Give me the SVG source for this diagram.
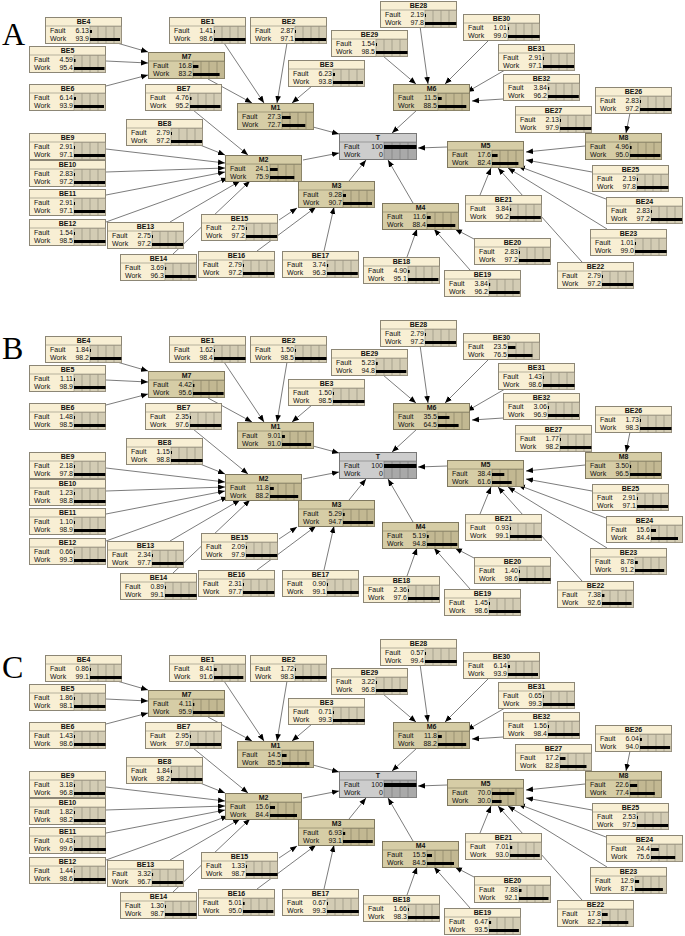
<svg xmlns="http://www.w3.org/2000/svg" xmlns:xlink="http://www.w3.org/1999/xlink" width="685" height="936" viewBox="0 0 685 936">
<style>
.n{font-family:"Liberation Sans",Arial,sans-serif;font-size:7px;font-weight:bold;text-anchor:middle;fill:#111}
.v{font-family:"Liberation Sans",Arial,sans-serif;font-size:7px;text-anchor:end;fill:#111}
.l{font-family:"Liberation Sans",Arial,sans-serif;font-size:7px;fill:#111}
.b{fill:#000}
.pl{font-family:"Liberation Serif","Times New Roman",serif;font-size:32px;fill:#000}
</style>
<defs>
<marker id="ah" viewBox="0 0 10 10" refX="10" refY="5" markerWidth="7" markerHeight="7" markerUnits="userSpaceOnUse" orient="auto"><path d="M0 1L10 5L0 9z" fill="#000"/></marker>
<g id="be"><rect x="0.5" y="0.5" width="76" height="26" fill="#f8efd4" stroke="#8c8675"/><line x1="0.5" y1="9" x2="76.5" y2="9" stroke="#8c8675" stroke-width="0.6"/><rect x="45" y="9.5" width="31.5" height="17" fill="#d3ccb4" stroke="#8c8675" stroke-width="0.6"/><path d="M53 9.5V26.5M61 9.5V26.5M69 9.5V26.5" stroke="#8c8675" stroke-width="0.6"/><text class="l" x="5" y="16">Fault</text><text class="l" x="5" y="24">Work</text></g>
<g id="mm"><rect x="0.5" y="0.5" width="76" height="26" fill="#d6cda6" stroke="#7f785f"/><line x1="0.5" y1="9" x2="76.5" y2="9" stroke="#7f785f" stroke-width="0.6"/><rect x="45" y="9.5" width="31.5" height="17" fill="#c2b892" stroke="#7f785f" stroke-width="0.6"/><path d="M53 9.5V26.5M61 9.5V26.5M69 9.5V26.5" stroke="#7f785f" stroke-width="0.6"/><text class="l" x="5" y="16">Fault</text><text class="l" x="5" y="24">Work</text></g>
<g id="tt"><rect x="0.5" y="0.5" width="77" height="26" fill="#cdcdcd" stroke="#777"/><line x1="0.5" y1="9" x2="77.5" y2="9" stroke="#777" stroke-width="0.6"/><rect x="45" y="9.5" width="32.5" height="17" fill="#a9a9a9" stroke="#777" stroke-width="0.6"/><path d="M53 9.5V26.5M61 9.5V26.5M69 9.5V26.5" stroke="#777" stroke-width="0.6"/><text class="l" x="5" y="16">Fault</text><text class="l" x="5" y="24">Work</text></g>
<g id="edges" stroke="#444" stroke-width="0.7" fill="none" marker-end="url(#ah)">
<line x1="117" y1="43" x2="148" y2="52"/><line x1="106" y1="61" x2="148" y2="63"/><line x1="106" y1="86" x2="148" y2="75"/>
<line x1="208" y1="79" x2="252" y2="103"/><line x1="224" y1="43" x2="264" y2="103"/><line x1="287" y1="43" x2="277" y2="103"/><line x1="312" y1="86" x2="292" y2="103"/>
<line x1="193" y1="110" x2="248" y2="155"/><line x1="200" y1="145" x2="225" y2="155"/>
<line x1="106" y1="149" x2="225" y2="163"/><line x1="106" y1="172" x2="225" y2="168"/><line x1="106" y1="195" x2="225" y2="172"/><line x1="106" y1="222" x2="228" y2="178"/>
<line x1="170" y1="222" x2="240" y2="181"/><line x1="173" y1="254" x2="250" y2="181"/>
<line x1="279" y1="220" x2="297" y2="208"/><line x1="257" y1="251" x2="316" y2="207"/><line x1="324" y1="251" x2="334" y2="207"/>
<line x1="303" y1="160" x2="339" y2="153"/><line x1="313" y1="127" x2="339" y2="134"/><line x1="349" y1="181" x2="366" y2="160"/>
<line x1="417" y1="110" x2="392" y2="133"/><line x1="413" y1="203" x2="388" y2="160"/><line x1="447" y1="147" x2="418" y2="148"/>
<line x1="585" y1="146" x2="526" y2="152"/><line x1="592" y1="172" x2="526" y2="160"/><line x1="606" y1="199" x2="518" y2="166"/><line x1="607" y1="229" x2="508" y2="168"/><line x1="582" y1="262" x2="498" y2="168"/><line x1="480" y1="195" x2="491" y2="168"/>
<line x1="474" y1="239" x2="455" y2="229"/><line x1="470" y1="270" x2="434" y2="229"/><line x1="407" y1="257" x2="417" y2="229"/>
<line x1="630" y1="113" x2="626" y2="133"/>
<line x1="420" y1="26" x2="428" y2="84"/><line x1="383" y1="56" x2="416" y2="84"/><line x1="489" y1="40" x2="445" y2="84"/><line x1="505" y1="70" x2="467" y2="92"/><line x1="503" y1="99" x2="472" y2="101"/>
</g>
</defs>

<g id="panelA">
<text class="pl" x="2" y="45">A</text>
<g id="connA"><use href="#edges"/></g>
<g id="a-BE4" transform="translate(45,17)"><use href="#be"/><text class="n" x="38.5" y="7">BE4</text><text class="v" x="44" y="16">6.13</text><text class="v" x="44" y="24">93.9</text><rect class="b" x="45" y="13" width="2" height="3"/><rect class="b" x="45" y="21" width="30" height="3"/></g>
<g id="a-BE1" transform="translate(169,17)"><use href="#be"/><text class="n" x="38.5" y="7">BE1</text><text class="v" x="44" y="16">1.41</text><text class="v" x="44" y="24">98.6</text><rect class="b" x="45" y="13" width="1" height="3"/><rect class="b" x="45" y="21" width="31.5" height="3"/></g>
<g id="a-BE2" transform="translate(250,17)"><use href="#be"/><text class="n" x="38.5" y="7">BE2</text><text class="v" x="44" y="16">2.87</text><text class="v" x="44" y="24">97.1</text><rect class="b" x="45" y="13" width="1" height="3"/><rect class="b" x="45" y="21" width="31.1" height="3"/></g>
<g id="a-BE28" transform="translate(380,1)"><use href="#be"/><text class="n" x="38.5" y="7">BE28</text><text class="v" x="44" y="16">2.19</text><text class="v" x="44" y="24">97.8</text><rect class="b" x="45" y="13" width="1" height="3"/><rect class="b" x="45" y="21" width="31.3" height="3"/></g>
<g id="a-BE30" transform="translate(463,14)"><use href="#be"/><text class="n" x="38.5" y="7">BE30</text><text class="v" x="44" y="16">1.01</text><text class="v" x="44" y="24">99.0</text><rect class="b" x="45" y="13" width="1" height="3"/><rect class="b" x="45" y="21" width="31.7" height="3"/></g>
<g id="a-BE29" transform="translate(331,30)"><use href="#be"/><text class="n" x="38.5" y="7">BE29</text><text class="v" x="44" y="16">1.54</text><text class="v" x="44" y="24">98.5</text><rect class="b" x="45" y="13" width="1" height="3"/><rect class="b" x="45" y="21" width="31.5" height="3"/></g>
<g id="a-BE5" transform="translate(29,46)"><use href="#be"/><text class="n" x="38.5" y="7">BE5</text><text class="v" x="44" y="16">4.59</text><text class="v" x="44" y="24">95.4</text><rect class="b" x="45" y="13" width="1.5" height="3"/><rect class="b" x="45" y="21" width="30.5" height="3"/></g>
<g id="a-M7" transform="translate(148,52)"><use href="#mm"/><text class="n" x="38.5" y="7">M7</text><text class="v" x="44" y="16">16.8</text><text class="v" x="44" y="24">83.2</text><rect class="b" x="45" y="13" width="5.4" height="3"/><rect class="b" x="45" y="21" width="26.6" height="3"/></g>
<g id="a-BE3" transform="translate(288,60)"><use href="#be"/><text class="n" x="38.5" y="7">BE3</text><text class="v" x="44" y="16">6.23</text><text class="v" x="44" y="24">93.8</text><rect class="b" x="45" y="13" width="2" height="3"/><rect class="b" x="45" y="21" width="30" height="3"/></g>
<g id="a-BE31" transform="translate(498,44)"><use href="#be"/><text class="n" x="38.5" y="7">BE31</text><text class="v" x="44" y="16">2.91</text><text class="v" x="44" y="24">97.1</text><rect class="b" x="45" y="13" width="1" height="3"/><rect class="b" x="45" y="21" width="31.1" height="3"/></g>
<g id="a-BE32" transform="translate(503,74)"><use href="#be"/><text class="n" x="38.5" y="7">BE32</text><text class="v" x="44" y="16">3.84</text><text class="v" x="44" y="24">96.2</text><rect class="b" x="45" y="13" width="1.2" height="3"/><rect class="b" x="45" y="21" width="30.8" height="3"/></g>
<g id="a-BE6" transform="translate(29,84)"><use href="#be"/><text class="n" x="38.5" y="7">BE6</text><text class="v" x="44" y="16">6.14</text><text class="v" x="44" y="24">93.9</text><rect class="b" x="45" y="13" width="2" height="3"/><rect class="b" x="45" y="21" width="30" height="3"/></g>
<g id="a-BE7" transform="translate(145,84)"><use href="#be"/><text class="n" x="38.5" y="7">BE7</text><text class="v" x="44" y="16">4.76</text><text class="v" x="44" y="24">95.2</text><rect class="b" x="45" y="13" width="1.5" height="3"/><rect class="b" x="45" y="21" width="30.5" height="3"/></g>
<g id="a-M6" transform="translate(393,84)"><use href="#mm"/><text class="n" x="38.5" y="7">M6</text><text class="v" x="44" y="16">11.5</text><text class="v" x="44" y="24">88.5</text><rect class="b" x="45" y="13" width="3.7" height="3"/><rect class="b" x="45" y="21" width="28.3" height="3"/></g>
<g id="a-BE26" transform="translate(595,87)"><use href="#be"/><text class="n" x="38.5" y="7">BE26</text><text class="v" x="44" y="16">2.83</text><text class="v" x="44" y="24">97.2</text><rect class="b" x="45" y="13" width="1" height="3"/><rect class="b" x="45" y="21" width="31.1" height="3"/></g>
<g id="a-M1" transform="translate(237,103)"><use href="#mm"/><text class="n" x="38.5" y="7">M1</text><text class="v" x="44" y="16">27.3</text><text class="v" x="44" y="24">72.7</text><rect class="b" x="45" y="13" width="8.7" height="3"/><rect class="b" x="45" y="21" width="23.3" height="3"/></g>
<g id="a-BE27" transform="translate(515,106)"><use href="#be"/><text class="n" x="38.5" y="7">BE27</text><text class="v" x="44" y="16">2.13</text><text class="v" x="44" y="24">97.9</text><rect class="b" x="45" y="13" width="1" height="3"/><rect class="b" x="45" y="21" width="31.3" height="3"/></g>
<g id="a-BE8" transform="translate(126,119)"><use href="#be"/><text class="n" x="38.5" y="7">BE8</text><text class="v" x="44" y="16">2.79</text><text class="v" x="44" y="24">97.2</text><rect class="b" x="45" y="13" width="1" height="3"/><rect class="b" x="45" y="21" width="31.1" height="3"/></g>
<g id="a-BE9" transform="translate(29,133)"><use href="#be"/><text class="n" x="38.5" y="7">BE9</text><text class="v" x="44" y="16">2.91</text><text class="v" x="44" y="24">97.1</text><rect class="b" x="45" y="13" width="1" height="3"/><rect class="b" x="45" y="21" width="31.1" height="3"/></g>
<g id="a-T" transform="translate(339,133)"><use href="#tt"/><text class="n" x="39" y="7">T</text><text class="v" x="44" y="16">100</text><text class="v" x="44" y="24">0</text><rect class="b" x="45" y="12" width="32.5" height="4"/></g>
<g id="a-M8" transform="translate(585,133)"><use href="#mm"/><text class="n" x="38.5" y="7">M8</text><text class="v" x="44" y="16">4.96</text><text class="v" x="44" y="24">95.0</text><rect class="b" x="45" y="13" width="1.6" height="3"/><rect class="b" x="45" y="21" width="30.4" height="3"/></g>
<g id="a-M5" transform="translate(447,141)"><use href="#mm"/><text class="n" x="38.5" y="7">M5</text><text class="v" x="44" y="16">17.6</text><text class="v" x="44" y="24">82.4</text><rect class="b" x="45" y="13" width="5.6" height="3"/><rect class="b" x="45" y="21" width="26.4" height="3"/></g>
<g id="a-M2" transform="translate(225,155)"><use href="#mm"/><text class="n" x="38.5" y="7">M2</text><text class="v" x="44" y="16">24.1</text><text class="v" x="44" y="24">75.9</text><rect class="b" x="45" y="13" width="7.7" height="3"/><rect class="b" x="45" y="21" width="24.3" height="3"/></g>
<g id="a-BE10" transform="translate(29,160)"><use href="#be"/><text class="n" x="38.5" y="7">BE10</text><text class="v" x="44" y="16">2.83</text><text class="v" x="44" y="24">97.2</text><rect class="b" x="45" y="13" width="1" height="3"/><rect class="b" x="45" y="21" width="31.1" height="3"/></g>
<g id="a-BE25" transform="translate(592,165)"><use href="#be"/><text class="n" x="38.5" y="7">BE25</text><text class="v" x="44" y="16">2.19</text><text class="v" x="44" y="24">97.8</text><rect class="b" x="45" y="13" width="1" height="3"/><rect class="b" x="45" y="21" width="31.3" height="3"/></g>
<g id="a-M3" transform="translate(298,181)"><use href="#mm"/><text class="n" x="38.5" y="7">M3</text><text class="v" x="44" y="16">9.28</text><text class="v" x="44" y="24">90.7</text><rect class="b" x="45" y="13" width="3" height="3"/><rect class="b" x="45" y="21" width="29" height="3"/></g>
<g id="a-BE11" transform="translate(29,189)"><use href="#be"/><text class="n" x="38.5" y="7">BE11</text><text class="v" x="44" y="16">2.91</text><text class="v" x="44" y="24">97.1</text><rect class="b" x="45" y="13" width="1" height="3"/><rect class="b" x="45" y="21" width="31.1" height="3"/></g>
<g id="a-BE21" transform="translate(465,195)"><use href="#be"/><text class="n" x="38.5" y="7">BE21</text><text class="v" x="44" y="16">3.84</text><text class="v" x="44" y="24">96.2</text><rect class="b" x="45" y="13" width="1.2" height="3"/><rect class="b" x="45" y="21" width="30.8" height="3"/></g>
<g id="a-BE24" transform="translate(606,197)"><use href="#be"/><text class="n" x="38.5" y="7">BE24</text><text class="v" x="44" y="16">2.83</text><text class="v" x="44" y="24">97.2</text><rect class="b" x="45" y="13" width="1" height="3"/><rect class="b" x="45" y="21" width="31.1" height="3"/></g>
<g id="a-M4" transform="translate(382,203)"><use href="#mm"/><text class="n" x="38.5" y="7">M4</text><text class="v" x="44" y="16">11.6</text><text class="v" x="44" y="24">88.4</text><rect class="b" x="45" y="13" width="3.7" height="3"/><rect class="b" x="45" y="21" width="28.3" height="3"/></g>
<g id="a-BE15" transform="translate(201,214)"><use href="#be"/><text class="n" x="38.5" y="7">BE15</text><text class="v" x="44" y="16">2.75</text><text class="v" x="44" y="24">97.2</text><rect class="b" x="45" y="13" width="1" height="3"/><rect class="b" x="45" y="21" width="31.1" height="3"/></g>
<g id="a-BE12" transform="translate(29,219)"><use href="#be"/><text class="n" x="38.5" y="7">BE12</text><text class="v" x="44" y="16">1.54</text><text class="v" x="44" y="24">98.5</text><rect class="b" x="45" y="13" width="1" height="3"/><rect class="b" x="45" y="21" width="31.5" height="3"/></g>
<g id="a-BE13" transform="translate(107,222)"><use href="#be"/><text class="n" x="38.5" y="7">BE13</text><text class="v" x="44" y="16">2.75</text><text class="v" x="44" y="24">97.2</text><rect class="b" x="45" y="13" width="1" height="3"/><rect class="b" x="45" y="21" width="31.1" height="3"/></g>
<g id="a-BE23" transform="translate(590,229)"><use href="#be"/><text class="n" x="38.5" y="7">BE23</text><text class="v" x="44" y="16">1.01</text><text class="v" x="44" y="24">99.0</text><rect class="b" x="45" y="13" width="1" height="3"/><rect class="b" x="45" y="21" width="31.7" height="3"/></g>
<g id="a-BE20" transform="translate(474,238)"><use href="#be"/><text class="n" x="38.5" y="7">BE20</text><text class="v" x="44" y="16">2.83</text><text class="v" x="44" y="24">97.2</text><rect class="b" x="45" y="13" width="1" height="3"/><rect class="b" x="45" y="21" width="31.1" height="3"/></g>
<g id="a-BE16" transform="translate(198,251)"><use href="#be"/><text class="n" x="38.5" y="7">BE16</text><text class="v" x="44" y="16">2.79</text><text class="v" x="44" y="24">97.2</text><rect class="b" x="45" y="13" width="1" height="3"/><rect class="b" x="45" y="21" width="31.1" height="3"/></g>
<g id="a-BE17" transform="translate(282,251)"><use href="#be"/><text class="n" x="38.5" y="7">BE17</text><text class="v" x="44" y="16">3.74</text><text class="v" x="44" y="24">96.3</text><rect class="b" x="45" y="13" width="1.2" height="3"/><rect class="b" x="45" y="21" width="30.8" height="3"/></g>
<g id="a-BE14" transform="translate(120,254)"><use href="#be"/><text class="n" x="38.5" y="7">BE14</text><text class="v" x="44" y="16">3.69</text><text class="v" x="44" y="24">96.3</text><rect class="b" x="45" y="13" width="1.2" height="3"/><rect class="b" x="45" y="21" width="30.8" height="3"/></g>
<g id="a-BE18" transform="translate(363,257)"><use href="#be"/><text class="n" x="38.5" y="7">BE18</text><text class="v" x="44" y="16">4.90</text><text class="v" x="44" y="24">95.1</text><rect class="b" x="45" y="13" width="1.6" height="3"/><rect class="b" x="45" y="21" width="30.4" height="3"/></g>
<g id="a-BE22" transform="translate(557,262)"><use href="#be"/><text class="n" x="38.5" y="7">BE22</text><text class="v" x="44" y="16">2.79</text><text class="v" x="44" y="24">97.2</text><rect class="b" x="45" y="13" width="1" height="3"/><rect class="b" x="45" y="21" width="31.1" height="3"/></g>
<g id="a-BE19" transform="translate(444,270)"><use href="#be"/><text class="n" x="38.5" y="7">BE19</text><text class="v" x="44" y="16">3.84</text><text class="v" x="44" y="24">96.2</text><rect class="b" x="45" y="13" width="1.2" height="3"/><rect class="b" x="45" y="21" width="30.8" height="3"/></g>
</g>

<g id="panelB" transform="translate(0,319)">
<text class="pl" x="2" y="40">B</text>
<g id="connB"><use href="#edges"/></g>
<g id="b-BE4" transform="translate(45,17)"><use href="#be"/><text class="n" x="38.5" y="7">BE4</text><text class="v" x="44" y="16">1.84</text><text class="v" x="44" y="24">98.2</text><rect class="b" x="45" y="13" width="1" height="3"/><rect class="b" x="45" y="21" width="31.4" height="3"/></g>
<g id="b-BE1" transform="translate(169,17)"><use href="#be"/><text class="n" x="38.5" y="7">BE1</text><text class="v" x="44" y="16">1.62</text><text class="v" x="44" y="24">98.4</text><rect class="b" x="45" y="13" width="1" height="3"/><rect class="b" x="45" y="21" width="31.5" height="3"/></g>
<g id="b-BE2" transform="translate(250,17)"><use href="#be"/><text class="n" x="38.5" y="7">BE2</text><text class="v" x="44" y="16">1.50</text><text class="v" x="44" y="24">98.5</text><rect class="b" x="45" y="13" width="1" height="3"/><rect class="b" x="45" y="21" width="31.5" height="3"/></g>
<g id="b-BE28" transform="translate(380,1)"><use href="#be"/><text class="n" x="38.5" y="7">BE28</text><text class="v" x="44" y="16">2.79</text><text class="v" x="44" y="24">97.2</text><rect class="b" x="45" y="13" width="1" height="3"/><rect class="b" x="45" y="21" width="31.1" height="3"/></g>
<g id="b-BE30" transform="translate(463,14)"><use href="#be"/><text class="n" x="38.5" y="7">BE30</text><text class="v" x="44" y="16">23.5</text><text class="v" x="44" y="24">76.5</text><rect class="b" x="45" y="13" width="7.5" height="3"/><rect class="b" x="45" y="21" width="24.5" height="3"/></g>
<g id="b-BE29" transform="translate(331,30)"><use href="#be"/><text class="n" x="38.5" y="7">BE29</text><text class="v" x="44" y="16">5.23</text><text class="v" x="44" y="24">94.8</text><rect class="b" x="45" y="13" width="1.7" height="3"/><rect class="b" x="45" y="21" width="30.3" height="3"/></g>
<g id="b-BE5" transform="translate(29,46)"><use href="#be"/><text class="n" x="38.5" y="7">BE5</text><text class="v" x="44" y="16">1.11</text><text class="v" x="44" y="24">98.9</text><rect class="b" x="45" y="13" width="1" height="3"/><rect class="b" x="45" y="21" width="31.6" height="3"/></g>
<g id="b-M7" transform="translate(148,52)"><use href="#mm"/><text class="n" x="38.5" y="7">M7</text><text class="v" x="44" y="16">4.42</text><text class="v" x="44" y="24">95.6</text><rect class="b" x="45" y="13" width="1.4" height="3"/><rect class="b" x="45" y="21" width="30.6" height="3"/></g>
<g id="b-BE3" transform="translate(288,60)"><use href="#be"/><text class="n" x="38.5" y="7">BE3</text><text class="v" x="44" y="16">1.50</text><text class="v" x="44" y="24">98.5</text><rect class="b" x="45" y="13" width="1" height="3"/><rect class="b" x="45" y="21" width="31.5" height="3"/></g>
<g id="b-BE31" transform="translate(498,44)"><use href="#be"/><text class="n" x="38.5" y="7">BE31</text><text class="v" x="44" y="16">1.43</text><text class="v" x="44" y="24">98.6</text><rect class="b" x="45" y="13" width="1" height="3"/><rect class="b" x="45" y="21" width="31.6" height="3"/></g>
<g id="b-BE32" transform="translate(503,74)"><use href="#be"/><text class="n" x="38.5" y="7">BE32</text><text class="v" x="44" y="16">3.06</text><text class="v" x="44" y="24">96.9</text><rect class="b" x="45" y="13" width="1" height="3"/><rect class="b" x="45" y="21" width="31" height="3"/></g>
<g id="b-BE6" transform="translate(29,84)"><use href="#be"/><text class="n" x="38.5" y="7">BE6</text><text class="v" x="44" y="16">1.48</text><text class="v" x="44" y="24">98.5</text><rect class="b" x="45" y="13" width="1" height="3"/><rect class="b" x="45" y="21" width="31.5" height="3"/></g>
<g id="b-BE7" transform="translate(145,84)"><use href="#be"/><text class="n" x="38.5" y="7">BE7</text><text class="v" x="44" y="16">2.35</text><text class="v" x="44" y="24">97.6</text><rect class="b" x="45" y="13" width="1" height="3"/><rect class="b" x="45" y="21" width="31.2" height="3"/></g>
<g id="b-M6" transform="translate(393,84)"><use href="#mm"/><text class="n" x="38.5" y="7">M6</text><text class="v" x="44" y="16">35.5</text><text class="v" x="44" y="24">64.5</text><rect class="b" x="45" y="13" width="11.4" height="3"/><rect class="b" x="45" y="21" width="20.6" height="3"/></g>
<g id="b-BE26" transform="translate(595,87)"><use href="#be"/><text class="n" x="38.5" y="7">BE26</text><text class="v" x="44" y="16">1.73</text><text class="v" x="44" y="24">98.3</text><rect class="b" x="45" y="13" width="1" height="3"/><rect class="b" x="45" y="21" width="31.5" height="3"/></g>
<g id="b-M1" transform="translate(237,103)"><use href="#mm"/><text class="n" x="38.5" y="7">M1</text><text class="v" x="44" y="16">9.01</text><text class="v" x="44" y="24">91.0</text><rect class="b" x="45" y="13" width="2.9" height="3"/><rect class="b" x="45" y="21" width="29.1" height="3"/></g>
<g id="b-BE27" transform="translate(515,106)"><use href="#be"/><text class="n" x="38.5" y="7">BE27</text><text class="v" x="44" y="16">1.77</text><text class="v" x="44" y="24">98.2</text><rect class="b" x="45" y="13" width="1" height="3"/><rect class="b" x="45" y="21" width="31.4" height="3"/></g>
<g id="b-BE8" transform="translate(126,119)"><use href="#be"/><text class="n" x="38.5" y="7">BE8</text><text class="v" x="44" y="16">1.15</text><text class="v" x="44" y="24">98.8</text><rect class="b" x="45" y="13" width="1" height="3"/><rect class="b" x="45" y="21" width="31.6" height="3"/></g>
<g id="b-BE9" transform="translate(29,133)"><use href="#be"/><text class="n" x="38.5" y="7">BE9</text><text class="v" x="44" y="16">2.18</text><text class="v" x="44" y="24">97.8</text><rect class="b" x="45" y="13" width="1" height="3"/><rect class="b" x="45" y="21" width="31.3" height="3"/></g>
<g id="b-T" transform="translate(339,133)"><use href="#tt"/><text class="n" x="39" y="7">T</text><text class="v" x="44" y="16">100</text><text class="v" x="44" y="24">0</text><rect class="b" x="45" y="12" width="32.5" height="4"/></g>
<g id="b-M8" transform="translate(585,133)"><use href="#mm"/><text class="n" x="38.5" y="7">M8</text><text class="v" x="44" y="16">3.50</text><text class="v" x="44" y="24">96.5</text><rect class="b" x="45" y="13" width="1.1" height="3"/><rect class="b" x="45" y="21" width="30.9" height="3"/></g>
<g id="b-M5" transform="translate(447,141)"><use href="#mm"/><text class="n" x="38.5" y="7">M5</text><text class="v" x="44" y="16">38.4</text><text class="v" x="44" y="24">61.6</text><rect class="b" x="45" y="13" width="12.3" height="3"/><rect class="b" x="45" y="21" width="19.7" height="3"/></g>
<g id="b-M2" transform="translate(225,155)"><use href="#mm"/><text class="n" x="38.5" y="7">M2</text><text class="v" x="44" y="16">11.8</text><text class="v" x="44" y="24">88.2</text><rect class="b" x="45" y="13" width="3.8" height="3"/><rect class="b" x="45" y="21" width="28.2" height="3"/></g>
<g id="b-BE10" transform="translate(29,160)"><use href="#be"/><text class="n" x="38.5" y="7">BE10</text><text class="v" x="44" y="16">1.23</text><text class="v" x="44" y="24">98.8</text><rect class="b" x="45" y="13" width="1" height="3"/><rect class="b" x="45" y="21" width="31.6" height="3"/></g>
<g id="b-BE25" transform="translate(592,165)"><use href="#be"/><text class="n" x="38.5" y="7">BE25</text><text class="v" x="44" y="16">2.91</text><text class="v" x="44" y="24">97.1</text><rect class="b" x="45" y="13" width="1" height="3"/><rect class="b" x="45" y="21" width="31.1" height="3"/></g>
<g id="b-M3" transform="translate(298,181)"><use href="#mm"/><text class="n" x="38.5" y="7">M3</text><text class="v" x="44" y="16">5.29</text><text class="v" x="44" y="24">94.7</text><rect class="b" x="45" y="13" width="1.7" height="3"/><rect class="b" x="45" y="21" width="30.3" height="3"/></g>
<g id="b-BE11" transform="translate(29,189)"><use href="#be"/><text class="n" x="38.5" y="7">BE11</text><text class="v" x="44" y="16">1.10</text><text class="v" x="44" y="24">98.9</text><rect class="b" x="45" y="13" width="1" height="3"/><rect class="b" x="45" y="21" width="31.6" height="3"/></g>
<g id="b-BE21" transform="translate(465,195)"><use href="#be"/><text class="n" x="38.5" y="7">BE21</text><text class="v" x="44" y="16">0.93</text><text class="v" x="44" y="24">99.1</text><rect class="b" x="45" y="13" width="1" height="3"/><rect class="b" x="45" y="21" width="31.7" height="3"/></g>
<g id="b-BE24" transform="translate(606,197)"><use href="#be"/><text class="n" x="38.5" y="7">BE24</text><text class="v" x="44" y="16">15.6</text><text class="v" x="44" y="24">84.4</text><rect class="b" x="45" y="13" width="5" height="3"/><rect class="b" x="45" y="21" width="27" height="3"/></g>
<g id="b-M4" transform="translate(382,203)"><use href="#mm"/><text class="n" x="38.5" y="7">M4</text><text class="v" x="44" y="16">5.19</text><text class="v" x="44" y="24">94.8</text><rect class="b" x="45" y="13" width="1.7" height="3"/><rect class="b" x="45" y="21" width="30.3" height="3"/></g>
<g id="b-BE15" transform="translate(201,214)"><use href="#be"/><text class="n" x="38.5" y="7">BE15</text><text class="v" x="44" y="16">2.09</text><text class="v" x="44" y="24">97.9</text><rect class="b" x="45" y="13" width="1" height="3"/><rect class="b" x="45" y="21" width="31.3" height="3"/></g>
<g id="b-BE12" transform="translate(29,219)"><use href="#be"/><text class="n" x="38.5" y="7">BE12</text><text class="v" x="44" y="16">0.66</text><text class="v" x="44" y="24">99.3</text><rect class="b" x="45" y="13" width="1" height="3"/><rect class="b" x="45" y="21" width="31.8" height="3"/></g>
<g id="b-BE13" transform="translate(107,222)"><use href="#be"/><text class="n" x="38.5" y="7">BE13</text><text class="v" x="44" y="16">2.34</text><text class="v" x="44" y="24">97.7</text><rect class="b" x="45" y="13" width="1" height="3"/><rect class="b" x="45" y="21" width="31.3" height="3"/></g>
<g id="b-BE23" transform="translate(590,229)"><use href="#be"/><text class="n" x="38.5" y="7">BE23</text><text class="v" x="44" y="16">8.78</text><text class="v" x="44" y="24">91.2</text><rect class="b" x="45" y="13" width="2.8" height="3"/><rect class="b" x="45" y="21" width="29.2" height="3"/></g>
<g id="b-BE20" transform="translate(474,238)"><use href="#be"/><text class="n" x="38.5" y="7">BE20</text><text class="v" x="44" y="16">1.40</text><text class="v" x="44" y="24">98.6</text><rect class="b" x="45" y="13" width="1" height="3"/><rect class="b" x="45" y="21" width="31.6" height="3"/></g>
<g id="b-BE16" transform="translate(198,251)"><use href="#be"/><text class="n" x="38.5" y="7">BE16</text><text class="v" x="44" y="16">2.31</text><text class="v" x="44" y="24">97.7</text><rect class="b" x="45" y="13" width="1" height="3"/><rect class="b" x="45" y="21" width="31.3" height="3"/></g>
<g id="b-BE17" transform="translate(282,251)"><use href="#be"/><text class="n" x="38.5" y="7">BE17</text><text class="v" x="44" y="16">0.90</text><text class="v" x="44" y="24">99.1</text><rect class="b" x="45" y="13" width="1" height="3"/><rect class="b" x="45" y="21" width="31.7" height="3"/></g>
<g id="b-BE14" transform="translate(120,254)"><use href="#be"/><text class="n" x="38.5" y="7">BE14</text><text class="v" x="44" y="16">0.89</text><text class="v" x="44" y="24">99.1</text><rect class="b" x="45" y="13" width="1" height="3"/><rect class="b" x="45" y="21" width="31.7" height="3"/></g>
<g id="b-BE18" transform="translate(363,257)"><use href="#be"/><text class="n" x="38.5" y="7">BE18</text><text class="v" x="44" y="16">2.36</text><text class="v" x="44" y="24">97.6</text><rect class="b" x="45" y="13" width="1" height="3"/><rect class="b" x="45" y="21" width="31.2" height="3"/></g>
<g id="b-BE22" transform="translate(557,262)"><use href="#be"/><text class="n" x="38.5" y="7">BE22</text><text class="v" x="44" y="16">7.38</text><text class="v" x="44" y="24">92.6</text><rect class="b" x="45" y="13" width="2.4" height="3"/><rect class="b" x="45" y="21" width="29.6" height="3"/></g>
<g id="b-BE19" transform="translate(444,270)"><use href="#be"/><text class="n" x="38.5" y="7">BE19</text><text class="v" x="44" y="16">1.45</text><text class="v" x="44" y="24">98.6</text><rect class="b" x="45" y="13" width="1" height="3"/><rect class="b" x="45" y="21" width="31.6" height="3"/></g>
</g>

<g id="panelC" transform="translate(0,638)">
<text class="pl" x="2" y="40">C</text>
<g id="connC"><use href="#edges"/></g>
<g id="c-BE4" transform="translate(45,17)"><use href="#be"/><text class="n" x="38.5" y="7">BE4</text><text class="v" x="44" y="16">0.86</text><text class="v" x="44" y="24">99.1</text><rect class="b" x="45" y="13" width="1" height="3"/><rect class="b" x="45" y="21" width="31.7" height="3"/></g>
<g id="c-BE1" transform="translate(169,17)"><use href="#be"/><text class="n" x="38.5" y="7">BE1</text><text class="v" x="44" y="16">8.41</text><text class="v" x="44" y="24">91.6</text><rect class="b" x="45" y="13" width="2.7" height="3"/><rect class="b" x="45" y="21" width="29.3" height="3"/></g>
<g id="c-BE2" transform="translate(250,17)"><use href="#be"/><text class="n" x="38.5" y="7">BE2</text><text class="v" x="44" y="16">1.72</text><text class="v" x="44" y="24">98.3</text><rect class="b" x="45" y="13" width="1" height="3"/><rect class="b" x="45" y="21" width="31.5" height="3"/></g>
<g id="c-BE28" transform="translate(380,1)"><use href="#be"/><text class="n" x="38.5" y="7">BE28</text><text class="v" x="44" y="16">0.57</text><text class="v" x="44" y="24">99.4</text><rect class="b" x="45" y="13" width="1" height="3"/><rect class="b" x="45" y="21" width="31.8" height="3"/></g>
<g id="c-BE30" transform="translate(463,14)"><use href="#be"/><text class="n" x="38.5" y="7">BE30</text><text class="v" x="44" y="16">6.14</text><text class="v" x="44" y="24">93.9</text><rect class="b" x="45" y="13" width="2" height="3"/><rect class="b" x="45" y="21" width="30" height="3"/></g>
<g id="c-BE29" transform="translate(331,30)"><use href="#be"/><text class="n" x="38.5" y="7">BE29</text><text class="v" x="44" y="16">3.22</text><text class="v" x="44" y="24">96.8</text><rect class="b" x="45" y="13" width="1" height="3"/><rect class="b" x="45" y="21" width="31" height="3"/></g>
<g id="c-BE5" transform="translate(29,46)"><use href="#be"/><text class="n" x="38.5" y="7">BE5</text><text class="v" x="44" y="16">1.86</text><text class="v" x="44" y="24">98.1</text><rect class="b" x="45" y="13" width="1" height="3"/><rect class="b" x="45" y="21" width="31.4" height="3"/></g>
<g id="c-M7" transform="translate(148,52)"><use href="#mm"/><text class="n" x="38.5" y="7">M7</text><text class="v" x="44" y="16">4.11</text><text class="v" x="44" y="24">95.9</text><rect class="b" x="45" y="13" width="1.3" height="3"/><rect class="b" x="45" y="21" width="30.7" height="3"/></g>
<g id="c-BE3" transform="translate(288,60)"><use href="#be"/><text class="n" x="38.5" y="7">BE3</text><text class="v" x="44" y="16">0.71</text><text class="v" x="44" y="24">99.3</text><rect class="b" x="45" y="13" width="1" height="3"/><rect class="b" x="45" y="21" width="31.8" height="3"/></g>
<g id="c-BE31" transform="translate(498,44)"><use href="#be"/><text class="n" x="38.5" y="7">BE31</text><text class="v" x="44" y="16">0.65</text><text class="v" x="44" y="24">99.3</text><rect class="b" x="45" y="13" width="1" height="3"/><rect class="b" x="45" y="21" width="31.8" height="3"/></g>
<g id="c-BE32" transform="translate(503,74)"><use href="#be"/><text class="n" x="38.5" y="7">BE32</text><text class="v" x="44" y="16">1.56</text><text class="v" x="44" y="24">98.4</text><rect class="b" x="45" y="13" width="1" height="3"/><rect class="b" x="45" y="21" width="31.5" height="3"/></g>
<g id="c-BE6" transform="translate(29,84)"><use href="#be"/><text class="n" x="38.5" y="7">BE6</text><text class="v" x="44" y="16">1.43</text><text class="v" x="44" y="24">98.6</text><rect class="b" x="45" y="13" width="1" height="3"/><rect class="b" x="45" y="21" width="31.6" height="3"/></g>
<g id="c-BE7" transform="translate(145,84)"><use href="#be"/><text class="n" x="38.5" y="7">BE7</text><text class="v" x="44" y="16">2.95</text><text class="v" x="44" y="24">97.0</text><rect class="b" x="45" y="13" width="1" height="3"/><rect class="b" x="45" y="21" width="31" height="3"/></g>
<g id="c-M6" transform="translate(393,84)"><use href="#mm"/><text class="n" x="38.5" y="7">M6</text><text class="v" x="44" y="16">11.8</text><text class="v" x="44" y="24">88.2</text><rect class="b" x="45" y="13" width="3.8" height="3"/><rect class="b" x="45" y="21" width="28.2" height="3"/></g>
<g id="c-BE26" transform="translate(595,87)"><use href="#be"/><text class="n" x="38.5" y="7">BE26</text><text class="v" x="44" y="16">6.04</text><text class="v" x="44" y="24">94.0</text><rect class="b" x="45" y="13" width="1.9" height="3"/><rect class="b" x="45" y="21" width="30.1" height="3"/></g>
<g id="c-M1" transform="translate(237,103)"><use href="#mm"/><text class="n" x="38.5" y="7">M1</text><text class="v" x="44" y="16">14.5</text><text class="v" x="44" y="24">85.5</text><rect class="b" x="45" y="13" width="4.6" height="3"/><rect class="b" x="45" y="21" width="27.4" height="3"/></g>
<g id="c-BE27" transform="translate(515,106)"><use href="#be"/><text class="n" x="38.5" y="7">BE27</text><text class="v" x="44" y="16">17.2</text><text class="v" x="44" y="24">82.8</text><rect class="b" x="45" y="13" width="5.5" height="3"/><rect class="b" x="45" y="21" width="26.5" height="3"/></g>
<g id="c-BE8" transform="translate(126,119)"><use href="#be"/><text class="n" x="38.5" y="7">BE8</text><text class="v" x="44" y="16">1.84</text><text class="v" x="44" y="24">98.2</text><rect class="b" x="45" y="13" width="1" height="3"/><rect class="b" x="45" y="21" width="31.4" height="3"/></g>
<g id="c-BE9" transform="translate(29,133)"><use href="#be"/><text class="n" x="38.5" y="7">BE9</text><text class="v" x="44" y="16">3.18</text><text class="v" x="44" y="24">96.8</text><rect class="b" x="45" y="13" width="1" height="3"/><rect class="b" x="45" y="21" width="31" height="3"/></g>
<g id="c-T" transform="translate(339,133)"><use href="#tt"/><text class="n" x="39" y="7">T</text><text class="v" x="44" y="16">100</text><text class="v" x="44" y="24">0</text><rect class="b" x="45" y="12" width="32.5" height="4"/></g>
<g id="c-M8" transform="translate(585,133)"><use href="#mm"/><text class="n" x="38.5" y="7">M8</text><text class="v" x="44" y="16">22.6</text><text class="v" x="44" y="24">77.4</text><rect class="b" x="45" y="13" width="7.2" height="3"/><rect class="b" x="45" y="21" width="24.8" height="3"/></g>
<g id="c-M5" transform="translate(447,141)"><use href="#mm"/><text class="n" x="38.5" y="7">M5</text><text class="v" x="44" y="16">70.0</text><text class="v" x="44" y="24">30.0</text><rect class="b" x="45" y="13" width="22.4" height="3"/><rect class="b" x="45" y="21" width="9.6" height="3"/></g>
<g id="c-M2" transform="translate(225,155)"><use href="#mm"/><text class="n" x="38.5" y="7">M2</text><text class="v" x="44" y="16">15.6</text><text class="v" x="44" y="24">84.4</text><rect class="b" x="45" y="13" width="5" height="3"/><rect class="b" x="45" y="21" width="27" height="3"/></g>
<g id="c-BE10" transform="translate(29,160)"><use href="#be"/><text class="n" x="38.5" y="7">BE10</text><text class="v" x="44" y="16">1.82</text><text class="v" x="44" y="24">98.2</text><rect class="b" x="45" y="13" width="1" height="3"/><rect class="b" x="45" y="21" width="31.4" height="3"/></g>
<g id="c-BE25" transform="translate(592,165)"><use href="#be"/><text class="n" x="38.5" y="7">BE25</text><text class="v" x="44" y="16">2.53</text><text class="v" x="44" y="24">97.5</text><rect class="b" x="45" y="13" width="1" height="3"/><rect class="b" x="45" y="21" width="31.2" height="3"/></g>
<g id="c-M3" transform="translate(298,181)"><use href="#mm"/><text class="n" x="38.5" y="7">M3</text><text class="v" x="44" y="16">6.93</text><text class="v" x="44" y="24">93.1</text><rect class="b" x="45" y="13" width="2.2" height="3"/><rect class="b" x="45" y="21" width="29.8" height="3"/></g>
<g id="c-BE11" transform="translate(29,189)"><use href="#be"/><text class="n" x="38.5" y="7">BE11</text><text class="v" x="44" y="16">0.43</text><text class="v" x="44" y="24">99.6</text><rect class="b" x="45" y="13" width="1" height="3"/><rect class="b" x="45" y="21" width="31.9" height="3"/></g>
<g id="c-BE21" transform="translate(465,195)"><use href="#be"/><text class="n" x="38.5" y="7">BE21</text><text class="v" x="44" y="16">7.01</text><text class="v" x="44" y="24">93.0</text><rect class="b" x="45" y="13" width="2.2" height="3"/><rect class="b" x="45" y="21" width="29.8" height="3"/></g>
<g id="c-BE24" transform="translate(606,197)"><use href="#be"/><text class="n" x="38.5" y="7">BE24</text><text class="v" x="44" y="16">24.4</text><text class="v" x="44" y="24">75.6</text><rect class="b" x="45" y="13" width="7.8" height="3"/><rect class="b" x="45" y="21" width="24.2" height="3"/></g>
<g id="c-M4" transform="translate(382,203)"><use href="#mm"/><text class="n" x="38.5" y="7">M4</text><text class="v" x="44" y="16">15.5</text><text class="v" x="44" y="24">84.5</text><rect class="b" x="45" y="13" width="5" height="3"/><rect class="b" x="45" y="21" width="27" height="3"/></g>
<g id="c-BE15" transform="translate(201,214)"><use href="#be"/><text class="n" x="38.5" y="7">BE15</text><text class="v" x="44" y="16">1.33</text><text class="v" x="44" y="24">98.7</text><rect class="b" x="45" y="13" width="1" height="3"/><rect class="b" x="45" y="21" width="31.6" height="3"/></g>
<g id="c-BE12" transform="translate(29,219)"><use href="#be"/><text class="n" x="38.5" y="7">BE12</text><text class="v" x="44" y="16">1.44</text><text class="v" x="44" y="24">98.6</text><rect class="b" x="45" y="13" width="1" height="3"/><rect class="b" x="45" y="21" width="31.6" height="3"/></g>
<g id="c-BE13" transform="translate(107,222)"><use href="#be"/><text class="n" x="38.5" y="7">BE13</text><text class="v" x="44" y="16">3.32</text><text class="v" x="44" y="24">96.7</text><rect class="b" x="45" y="13" width="1.1" height="3"/><rect class="b" x="45" y="21" width="30.9" height="3"/></g>
<g id="c-BE23" transform="translate(590,229)"><use href="#be"/><text class="n" x="38.5" y="7">BE23</text><text class="v" x="44" y="16">12.9</text><text class="v" x="44" y="24">87.1</text><rect class="b" x="45" y="13" width="4.1" height="3"/><rect class="b" x="45" y="21" width="27.9" height="3"/></g>
<g id="c-BE20" transform="translate(474,238)"><use href="#be"/><text class="n" x="38.5" y="7">BE20</text><text class="v" x="44" y="16">7.88</text><text class="v" x="44" y="24">92.1</text><rect class="b" x="45" y="13" width="2.5" height="3"/><rect class="b" x="45" y="21" width="29.5" height="3"/></g>
<g id="c-BE16" transform="translate(198,251)"><use href="#be"/><text class="n" x="38.5" y="7">BE16</text><text class="v" x="44" y="16">5.01</text><text class="v" x="44" y="24">95.0</text><rect class="b" x="45" y="13" width="1.6" height="3"/><rect class="b" x="45" y="21" width="30.4" height="3"/></g>
<g id="c-BE17" transform="translate(282,251)"><use href="#be"/><text class="n" x="38.5" y="7">BE17</text><text class="v" x="44" y="16">0.67</text><text class="v" x="44" y="24">99.3</text><rect class="b" x="45" y="13" width="1" height="3"/><rect class="b" x="45" y="21" width="31.8" height="3"/></g>
<g id="c-BE14" transform="translate(120,254)"><use href="#be"/><text class="n" x="38.5" y="7">BE14</text><text class="v" x="44" y="16">1.30</text><text class="v" x="44" y="24">98.7</text><rect class="b" x="45" y="13" width="1" height="3"/><rect class="b" x="45" y="21" width="31.6" height="3"/></g>
<g id="c-BE18" transform="translate(363,257)"><use href="#be"/><text class="n" x="38.5" y="7">BE18</text><text class="v" x="44" y="16">1.66</text><text class="v" x="44" y="24">98.3</text><rect class="b" x="45" y="13" width="1" height="3"/><rect class="b" x="45" y="21" width="31.5" height="3"/></g>
<g id="c-BE22" transform="translate(557,262)"><use href="#be"/><text class="n" x="38.5" y="7">BE22</text><text class="v" x="44" y="16">17.8</text><text class="v" x="44" y="24">82.2</text><rect class="b" x="45" y="13" width="5.7" height="3"/><rect class="b" x="45" y="21" width="26.3" height="3"/></g>
<g id="c-BE19" transform="translate(444,270)"><use href="#be"/><text class="n" x="38.5" y="7">BE19</text><text class="v" x="44" y="16">6.47</text><text class="v" x="44" y="24">93.5</text><rect class="b" x="45" y="13" width="2.1" height="3"/><rect class="b" x="45" y="21" width="29.9" height="3"/></g>
</g>
</svg>
